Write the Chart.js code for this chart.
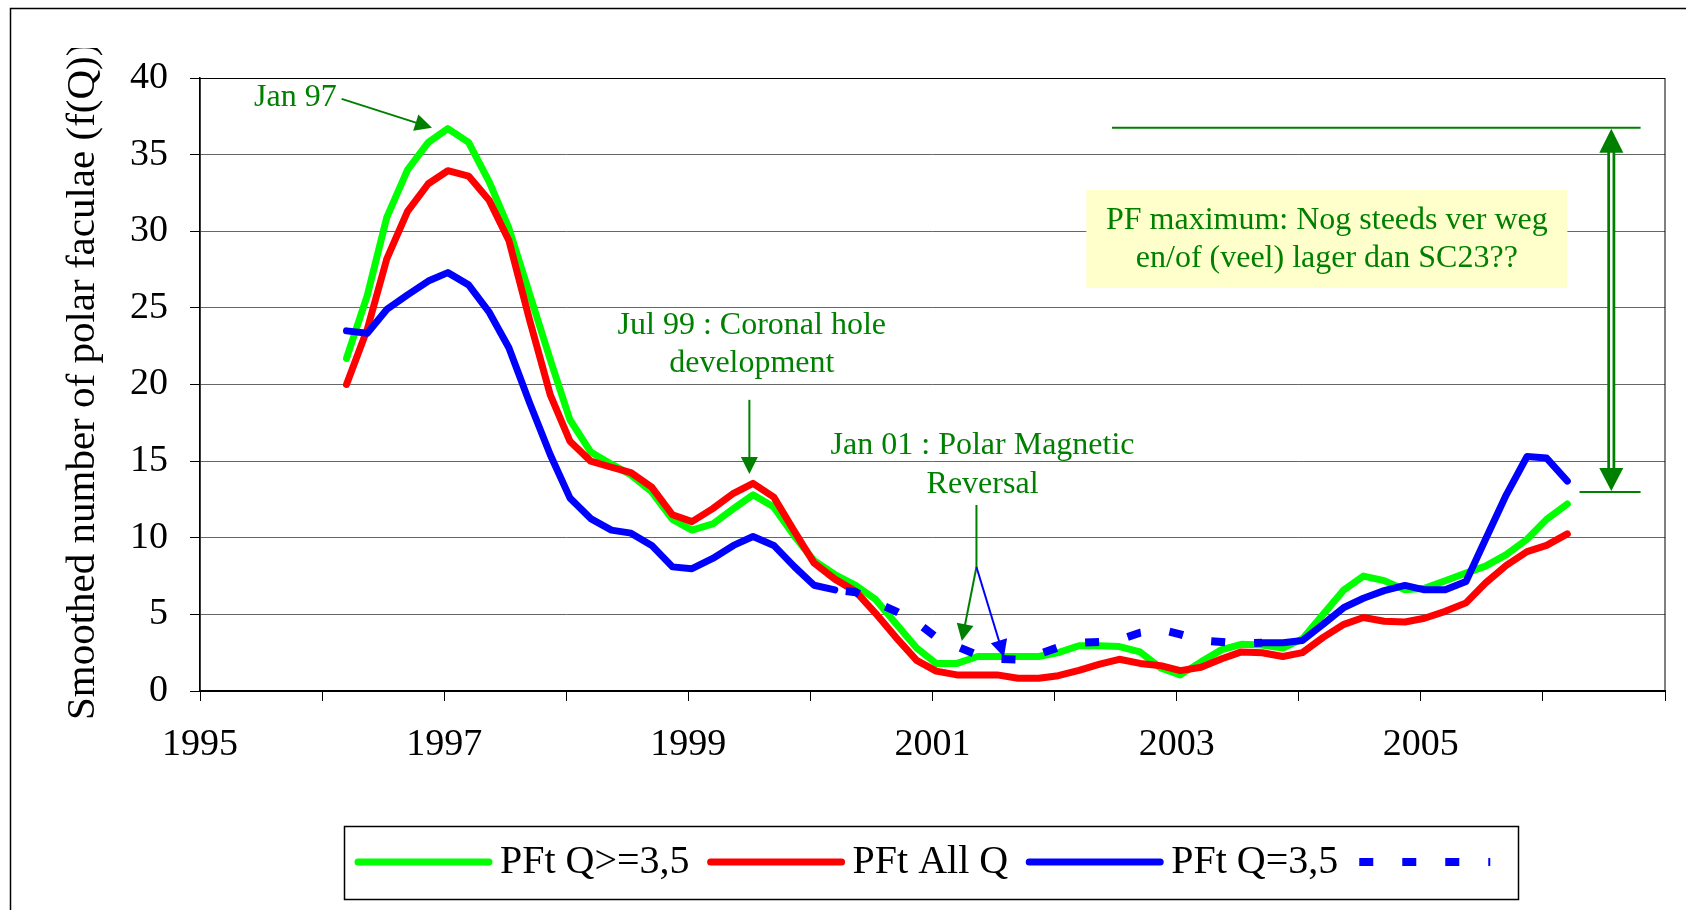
<!DOCTYPE html>
<html>
<head>
<meta charset="utf-8">
<title>Polar faculae</title>
<script src="https://cdn.jsdelivr.net/npm/chart.js@4.4.1/dist/chart.umd.min.js"></script>
<style>
  html, body { margin: 0; padding: 0; background: #fff; }
  #wrap { width: 1686px; height: 910px; }
</style>
</head>
<body>
<div id="wrap"><canvas id="chart" width="1686" height="910"></canvas></div>
<script>
// time axis, one point every two months (decimal years)
const years = [
  1996.20, 1996.37, 1996.53, 1996.70, 1996.87,
  1997.03, 1997.20, 1997.37, 1997.53, 1997.70, 1997.87,
  1998.03, 1998.20, 1998.37, 1998.53, 1998.70, 1998.87,
  1999.03, 1999.20, 1999.37, 1999.53, 1999.70, 1999.87,
  2000.03, 2000.20, 2000.37, 2000.53, 2000.70, 2000.87,
  2001.03, 2001.20, 2001.37, 2001.53, 2001.70, 2001.87,
  2002.03, 2002.20, 2002.37, 2002.53, 2002.70, 2002.87,
  2003.03, 2003.20, 2003.37, 2003.53, 2003.70, 2003.87,
  2004.03, 2004.20, 2004.37, 2004.53, 2004.70, 2004.87,
  2005.03, 2005.20, 2005.37, 2005.53, 2005.70, 2005.87,
  2006.03, 2006.20
];

const pftHigh = [
  21.7, 25.8, 30.9, 34.0, 35.8,
  36.7, 35.8, 33.2, 30.2, 25.9, 21.6,
  17.7, 15.6, 14.8, 14.1, 13.0, 11.2,
  10.5, 10.9, 11.9, 12.8, 12.0, 10.1,
  8.5, 7.6, 6.9, 6.0, 4.4, 2.8,
  1.8, 1.8, 2.25, 2.25, 2.25, 2.25,
  2.5, 2.95, 2.95, 2.9, 2.55, 1.5,
  1.05, 1.9, 2.7, 3.05, 3.0, 2.8,
  3.4, 5.0, 6.6, 7.5, 7.2, 6.6,
  6.7, 7.2, 7.7, 8.15, 8.9, 9.9,
  11.2, 12.2
];

const pftAll = [
  20.0, 23.6, 28.2, 31.3, 33.1,
  33.95, 33.6, 32.0, 29.4, 24.2, 19.3,
  16.3, 15.0, 14.6, 14.25, 13.3, 11.5,
  11.05, 11.9, 12.9, 13.55, 12.65, 10.4,
  8.35, 7.3, 6.5, 5.1, 3.5, 2.0,
  1.3, 1.05, 1.05, 1.05, 0.83, 0.83,
  1.0, 1.35, 1.75, 2.07, 1.8, 1.65,
  1.33, 1.55, 2.1, 2.55, 2.5, 2.25,
  2.5, 3.5, 4.35, 4.8, 4.55, 4.5,
  4.75, 5.2, 5.75, 7.05, 8.2, 9.1,
  9.5, 10.25
];

const pftEq = [
  23.5, 23.35, 24.9, 25.85, 26.75,
  27.3, 26.5, 24.7, 22.4, 18.8, 15.4,
  12.6, 11.25, 10.5, 10.3, 9.5, 8.1,
  7.98, 8.65, 9.5, 10.08, 9.5, 8.1,
  6.9, 6.6, null, null, null, null,
  null, null, null, null, null, null,
  null, null, null, null, null, null,
  null, null, null, null, 3.15, 3.15,
  3.3, 4.35, 5.45, 6.05, 6.55, 6.89,
  6.6, 6.6, 7.15, 9.9, 12.8, 15.3,
  15.2, 13.7
];

// dashed bridge of the Q=3,5 series
const pftEqGap = [
  null, null, null, null, null,
  null, null, null, null, null, null,
  null, null, null, null, null, null,
  null, null, null, null, null, null,
  null, 6.6, 6.45, 5.8, 5.2, 4.5,
  3.5, 2.9, 2.35, 2.1, 2.05, 2.4,
  2.85, 3.15, 3.2, 3.35, 3.8, 4.0,
  3.7, 3.3, 3.2, 3.1, 3.15, null,
  null, null, null, null, null, null,
  null, null, null, null, null, null,
  null, null
];

const yTicks = [0, 5, 10, 15, 20, 25, 30, 35, 40];
const xLabelYears = [1995, 1997, 1999, 2001, 2003, 2005];

const SERIF = '"Liberation Serif", "Times New Roman", serif';
const GREEN = '#008000';

const pts = arr => years.map((yr, i) => ({ x: yr, y: arr[i] }));

function arrow(ctx, x1, y1, x2, y2, color, width, head) {
  const a = Math.atan2(y2 - y1, x2 - x1);
  ctx.strokeStyle = color;
  ctx.lineWidth = width;
  ctx.beginPath();
  ctx.moveTo(x1, y1);
  ctx.lineTo(x2 - Math.cos(a) * head * 0.8, y2 - Math.sin(a) * head * 0.8);
  ctx.stroke();
  const bx = x2 - Math.cos(a) * head, by = y2 - Math.sin(a) * head;
  const w = head * 0.5;
  ctx.fillStyle = color;
  ctx.beginPath();
  ctx.moveTo(x2, y2);
  ctx.lineTo(bx + Math.sin(a) * w, by - Math.cos(a) * w);
  ctx.lineTo(bx - Math.sin(a) * w, by + Math.cos(a) * w);
  ctx.closePath();
  ctx.fill();
}

const frame = {
  id: 'frame',
  beforeDatasetsDraw(chart) {
    const { ctx, chartArea: a } = chart;
    ctx.save();
    ctx.strokeStyle = '#000';
    ctx.lineWidth = 1;
    ctx.strokeRect(a.left, a.top + 0.5, a.right - a.left, a.bottom - a.top);
    ctx.restore();
  },
  afterDraw(chart) {
    const ctx = chart.ctx;
    ctx.save();
    // outer chart border (top + left visible)
    ctx.strokeStyle = '#000';
    ctx.lineWidth = 1.5;
    ctx.beginPath();
    ctx.moveTo(10.5, 910);
    ctx.lineTo(10.5, 8.5);
    ctx.lineTo(1686, 8.5);
    ctx.stroke();

    // y axis title, clipped at the top like the original
    ctx.beginPath();
    ctx.rect(0, 48, 120, 862);
    ctx.clip();
    ctx.translate(94, 720);
    ctx.rotate(-Math.PI / 2);
    ctx.fillStyle = '#000';
    ctx.font = '41px ' + SERIF;
    ctx.textAlign = 'left';
    ctx.textBaseline = 'alphabetic';
    ctx.fillText('Smoothed number of polar faculae (f(Q))', 0, 0);
    ctx.restore();
  }
};

const notes = {
  id: 'notes',
  afterDraw(chart) {
    const { ctx, scales: { x, y } } = chart;
    const px = v => x.getPixelForValue(v);
    const py = v => y.getPixelForValue(v);
    ctx.save();
    ctx.font = '32px ' + SERIF;
    ctx.fillStyle = GREEN;
    ctx.textBaseline = 'middle';

    // Jan 97
    ctx.textAlign = 'right';
    ctx.fillText('Jan 97', px(1996.12), py(38.7));
    arrow(ctx, px(1996.16), py(38.64), px(1996.9), py(36.75), GREEN, 2, 17);

    // Jul 99
    ctx.textAlign = 'center';
    ctx.fillStyle = GREEN;
    ctx.fillText('Jul 99 : Coronal hole', px(1999.52), py(23.83));
    ctx.fillText('development', px(1999.52), py(21.35));
    arrow(ctx, px(1999.5), py(19.0), px(1999.5), py(14.16), GREEN, 2, 17);

    // Jan 01
    ctx.fillStyle = GREEN;
    ctx.fillText('Jan 01 : Polar Magnetic', px(2001.41), py(16.0));
    ctx.fillText('Reversal', px(2001.41), py(13.45));
    ctx.strokeStyle = GREEN;
    ctx.lineWidth = 2;
    ctx.beginPath();
    ctx.moveTo(px(2001.36), py(12.14));
    ctx.lineTo(px(2001.36), py(8.09));
    ctx.stroke();
    arrow(ctx, px(2001.36), py(8.09), px(2001.24), py(3.26), GREEN, 2, 17);
    arrow(ctx, px(2001.36), py(8.09), px(2001.585), py(2.22), '#0000ff', 2, 17);

    // max / current level markers
    ctx.strokeStyle = GREEN;
    ctx.lineWidth = 2;
    ctx.beginPath();
    ctx.moveTo(px(2002.47), py(36.75));
    ctx.lineTo(px(2006.8), py(36.75));
    ctx.moveTo(px(2006.3), py(12.99));
    ctx.lineTo(px(2006.8), py(12.99));
    ctx.stroke();

    const ax = px(2006.56), top = py(36.75), bot = py(12.99);
    ctx.lineWidth = 8;
    ctx.beginPath();
    ctx.moveTo(ax, top + 20);
    ctx.lineTo(ax, bot - 20);
    ctx.stroke();
    ctx.strokeStyle = '#fff';
    ctx.lineWidth = 2.5;
    ctx.beginPath();
    ctx.moveTo(ax, top + 24);
    ctx.lineTo(ax, bot - 24);
    ctx.stroke();
    ctx.fillStyle = GREEN;
    ctx.beginPath();
    ctx.moveTo(ax, top + 1);
    ctx.lineTo(ax - 12, top + 25);
    ctx.lineTo(ax + 12, top + 25);
    ctx.closePath();
    ctx.fill();
    ctx.beginPath();
    ctx.moveTo(ax, bot - 1);
    ctx.lineTo(ax - 12, bot - 24);
    ctx.lineTo(ax + 12, bot - 24);
    ctx.closePath();
    ctx.fill();

    // yellow note
    const bx1 = px(2002.26), bx2 = px(2006.2), by1 = py(32.7), by2 = py(26.3);
    ctx.fillStyle = '#ffffcc';
    ctx.fillRect(bx1, by1, bx2 - bx1, by2 - by1);
    ctx.fillStyle = GREEN;
    ctx.textAlign = 'center';
    ctx.fillText('PF maximum: Nog steeds ver weg', px(2004.23), py(30.68));
    ctx.fillText('en/of (veel) lager dan SC23??', px(2004.23), py(28.2));
    ctx.restore();
  }
};

// legend drawn inside a bordered box under the plot
const boxLegend = {
  id: 'boxLegend',
  afterDraw(chart) {
    const ctx = chart.ctx;
    ctx.save();
    ctx.strokeStyle = '#000';
    ctx.lineWidth = 1.5;
    ctx.strokeRect(344.5, 826.5, 1174, 73);
    ctx.font = '40px ' + SERIF;
    ctx.textBaseline = 'middle';
    ctx.textAlign = 'left';
    const cy = 862;
    let cx = 358;
    chart.data.datasets.forEach(ds => {
      ctx.strokeStyle = ds.borderColor;
      ctx.lineWidth = ds.borderWidth;
      ctx.lineCap = ds.borderDash ? 'butt' : 'round';
      ctx.setLineDash(ds.borderDash || []);
      ctx.beginPath();
      ctx.moveTo(cx, cy);
      ctx.lineTo(cx + 131, cy);
      ctx.stroke();
      ctx.setLineDash([]);
      cx += 131;
      if (ds.label) {
        cx += 11;
        ctx.fillStyle = '#000';
        ctx.fillText(ds.label, cx, cy);
        cx += ctx.measureText(ds.label).width + 21;
      }
    });
    ctx.restore();
  }
};

new Chart(document.getElementById('chart'), {
  type: 'line',
  data: {
    datasets: [
      { label: 'PFt Q>=3,5', data: pts(pftHigh), borderColor: '#00ff00', borderWidth: 7, order: 3 },
      { label: 'PFt All Q', data: pts(pftAll), borderColor: '#ff0000', borderWidth: 7, order: 2 },
      { label: 'PFt Q=3,5', data: pts(pftEq), borderColor: '#0000ff', borderWidth: 7, order: 1 },
      { label: '', data: pts(pftEqGap), borderColor: '#0000ff', borderWidth: 8,
        borderDash: [14, 29], borderDashOffset: 32, borderCapStyle: 'butt', order: 0 }
    ]
  },
  options: {
    responsive: false,
    animation: false,
    devicePixelRatio: 1,
    layout: { padding: { top: 78, right: 19, bottom: 139, left: 100 } },
    elements: {
      point: { radius: 0, hoverRadius: 0 },
      line: { tension: 0, fill: false, borderJoinStyle: 'round', borderCapStyle: 'round' }
    },
    plugins: {
      legend: { display: false },
      tooltip: { enabled: false }
    },
    scales: {
      x: {
        type: 'linear',
        min: 1995,
        max: 2007,
        afterFit: s => { s.height = 80; },
        afterBuildTicks: s => { s.ticks = Array.from({ length: 13 }, (_, i) => ({ value: 1995 + i })); },
        ticks: {
          autoSkip: false,
          maxRotation: 0,
          padding: 21,
          color: '#000',
          font: { family: SERIF, size: 38 },
          callback: v => xLabelYears.includes(v) ? String(v) : ''
        },
        grid: { drawOnChartArea: false, drawTicks: true, tickLength: 10, color: '#000' },
        border: { color: '#000', width: 2 }
      },
      y: {
        min: 0,
        max: 40,
        afterFit: s => { s.width = 100; },
        afterBuildTicks: s => { s.ticks = yTicks.map(v => ({ value: v })); },
        ticks: {
          padding: 22,
          color: '#000',
          font: { family: SERIF, size: 38 }
        },
        grid: { color: '#666', lineWidth: 1, tickLength: 10, tickColor: '#000' },
        border: { color: '#000', width: 1.5 }
      }
    }
  },
  plugins: [frame, notes, boxLegend]
});
</script>
</body>
</html>
